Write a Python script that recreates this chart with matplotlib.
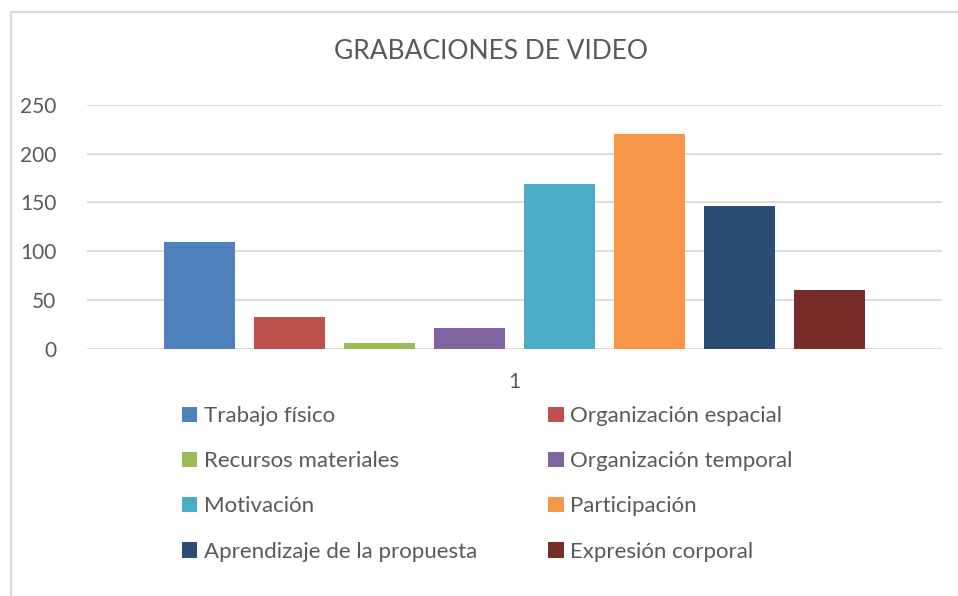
import matplotlib.pyplot as plt
from matplotlib.lines import Line2D

plt.rcParams['font.family'] = ['Lato', 'DejaVu Sans']

categories = ['Trabajo físico', 'Organización espacial', 'Recursos materiales',
              'Organización temporal', 'Motivación', 'Participación',
              'Aprendizaje de la propuesta', 'Expresión corporal']
values = [109, 32, 6, 21, 169, 220, 146, 60]
colors = ['#4F81BD', '#C0504D', '#9BBB59', '#8064A2',
          '#4BACC6', '#F79646', '#2C4D75', '#772C2A']
yticks = [0, 50, 100, 150, 200, 250]

text_color = '#595959'
grid_color = '#D9D9D9'

fig = plt.figure(figsize=(9.58, 5.96), dpi=100)
ax = fig.add_axes([0.0908, 0.415, 0.892, 0.409])

pitch = 0.1053
width = 0.083
for i, (name, v, c) in enumerate(zip(categories, values, colors)):
    ax.bar((i - 3.5) * pitch, v, width=width, color=c, label=name, zorder=3)

ax.set_xlim(-0.5, 0.5)
ax.set_ylim(0, 250)
ax.set_yticks(yticks)
ax.set_xticks([0])
ax.set_xticklabels(['1'])
ax.tick_params(axis='both', length=0, labelsize=15, colors=text_color)
ax.tick_params(axis='y', pad=22)
ax.tick_params(axis='x', pad=17)
ax.yaxis.grid(True, color=grid_color, linewidth=1.3, zorder=0)
for s in ax.spines.values():
    s.set_visible(False)

fig.text(0.513, 0.914, 'GRABACIONES DE VIDEO', ha='center', va='center',
         fontsize=19, color=text_color)

# legend in two columns, filled row by row
handles, labels = ax.get_legend_handles_labels()
h_cols = handles[0::2] + handles[1::2]
l_cols = labels[0::2] + labels[1::2]
fig.legend(h_cols, l_cols, ncol=2, loc='upper left',
           bbox_to_anchor=(0.178, 0.337), frameon=False,
           fontsize=16, labelcolor=text_color, handlelength=0.7,
           handleheight=0.7, handletextpad=0.3, columnspacing=3.2,
           labelspacing=1.13, borderpad=0)

# chart border (left and top visible)
fig.add_artist(Line2D([0.0115, 0.0115], [0, 0.98], color=grid_color, linewidth=1.5))
fig.add_artist(Line2D([0.0115, 1.0], [0.98, 0.98], color=grid_color, linewidth=1.5))

fig.savefig('out.png', dpi=100, facecolor='white')
